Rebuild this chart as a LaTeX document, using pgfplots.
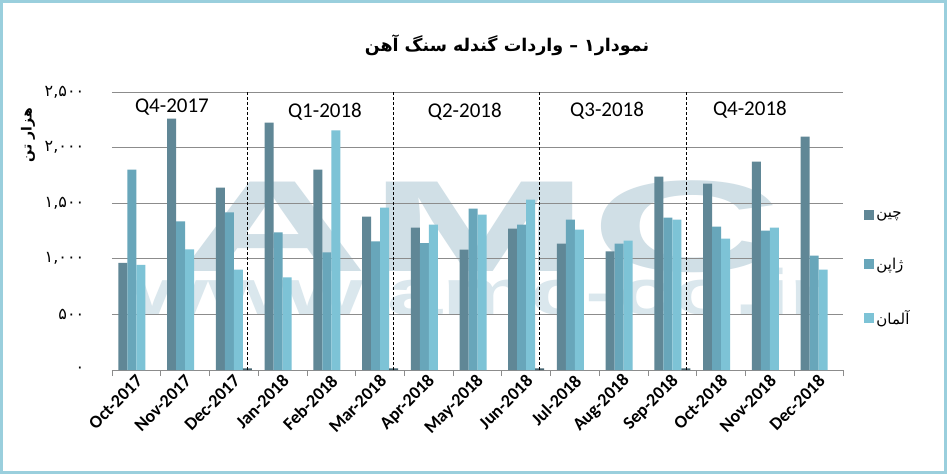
\documentclass[border=0pt]{standalone}
\usepackage{pgfplots}
\pgfplotsset{compat=1.18}
\usepackage{fontspec}
\setmainfont{Carlito}
\newfontfamily\arabicfont[Script=Arabic]{DejaVu Sans}
\TeXXeTstate=1
\definecolor{cChina}{RGB}{96,135,150}
\definecolor{cJapan}{RGB}{104,166,186}
\definecolor{cGermany}{RGB}{125,195,214}
\definecolor{cSep}{RGB}{70,100,112}
\definecolor{frameblue}{RGB}{154,207,221}
\definecolor{wm}{RGB}{208,223,230}
\definecolor{wm2}{RGB}{218,231,237}
\definecolor{gridgray}{RGB}{140,140,140}

\pgfplotstableread{
x china japan germany
0 963 1802 945
1 2261 1337 1085
2 1640 1418 903
3 2225 1238 834
4 1802 1058 2156
5 1379 1157 1460
6 1280 1142 1307
7 1082 1451 1397
8 1271 1307 1532
9 1136 1352 1262
10 1067 1136 1163
11 1739 1370 1352
12 1676 1289 1181
13 1874 1253 1280
14 2099 1028 903
}\datatable

\begin{document}
\begin{tikzpicture}[x=1pt,y=1pt]
\useasboundingbox (0,0) rectangle (947,474);
\fill[white] (0,0) rectangle (947,474);
% watermark
\node[text=wm, inner sep=0pt, font=\fontspec{Liberation Sans}\bfseries\fontsize{130}{130}\selectfont, xscale=2.05, transform shape] at (480,247) {AMC};
\node[text=wm2, inner sep=0pt, anchor=base, font=\fontspec{Liberation Sans}\bfseries\fontsize{64}{64}\selectfont, xscale=1.55, transform shape] at (480,159) {www.amc-co.ir};
% title
\node[font=\arabicfont\bfseries\fontsize{17.5}{22}\selectfont] at (507,429) {\beginR نمودار۱ – واردات گندله سنگ آهن\endR};
\begin{axis}[
  at={(112pt,104pt)}, anchor=south west,
  scale only axis, width=731pt, height=278pt,
  xmin=-0.5, xmax=14.5, ymin=0, ymax=2500,
  axis lines*=left,
  y axis line style={draw=none},
  x axis line style={draw=gridgray, line width=0.8pt},
  tick align=outside,
  xtick={0,...,14},
  xticklabels={Oct-2017,Nov-2017,Dec-2017,Jan-2018,Feb-2018,Mar-2018,Apr-2018,May-2018,Jun-2018,Jul-2018,Aug-2018,Sep-2018,Oct-2018,Nov-2018,Dec-2018},
  major x tick style={draw=none},
  minor xtick={-0.5,0.5,...,14.5},
  minor x tick style={draw=gridgray, line width=0.8pt},
  minor tick length=6pt,
  xticklabel style={font=\bfseries\fontsize{18}{18}\selectfont, rotate=45, anchor=east, xshift=3pt, yshift=-5pt},
  ytick={0,500,...,2500},
  yticklabels={۰,۵۰۰,{۱,۰۰۰},{۱,۵۰۰},{۲,۰۰۰},{۲,۵۰۰}},
  yticklabel style={font=\arabicfont\fontsize{16}{16}\selectfont, anchor=east, xshift=-20pt},
  major y tick style={draw=none},
  ymajorgrids,
  grid style={draw=gridgray, line width=0.8pt},
  ylabel={\arabicfont\bfseries\fontsize{14}{14}\selectfont\beginR هزار تن\endR},
  ylabel style={at={(axis description cs:-0.115,0.845)}, anchor=center},
  legend style={at={(1.025,0.585)}, anchor=north west, draw=none, fill=none,
    font=\arabicfont\fontsize{15}{15}\selectfont, row sep=35pt},
  legend cell align=left,
  clip=false,
]
\addplot[ybar, bar width=9pt, bar shift=-13.5pt, fill=cChina, draw=none,
  legend image code/.code={\fill[cChina] (0pt,-5pt) rectangle (10pt,5pt);}]
  table[x=x, y=china] {\datatable};
\addlegendentry{\beginR چین\endR}
\addplot[ybar, bar width=9pt, bar shift=-4.5pt, fill=cJapan, draw=none,
  legend image code/.code={\fill[cJapan] (0pt,-5pt) rectangle (10pt,5pt);}]
  table[x=x, y=japan] {\datatable};
\addlegendentry{\beginR ژاپن\endR}
\addplot[ybar, bar width=9pt, bar shift=4.5pt, fill=cGermany, draw=none,
  legend image code/.code={\fill[cGermany] (0pt,-5pt) rectangle (10pt,5pt);}]
  table[x=x, y=germany] {\datatable};
\addlegendentry{\beginR آلمان\endR}
\addplot[ybar, bar width=9pt, bar shift=13.5pt, fill=cSep, draw=none, forget plot]
  coordinates {(2,15) (5,15) (8,15) (11,15)};
% quarter separators
\addplot[black, dash pattern=on 3pt off 2pt, line width=0.8pt, forget plot] coordinates {(2.277,0) (2.277,2500)};
\addplot[black, dash pattern=on 3pt off 2pt, line width=0.8pt, forget plot] coordinates {(5.277,0) (5.277,2500)};
\addplot[black, dash pattern=on 3pt off 2pt, line width=0.8pt, forget plot] coordinates {(8.277,0) (8.277,2500)};
\addplot[black, dash pattern=on 3pt off 2pt, line width=0.8pt, forget plot] coordinates {(11.277,0) (11.277,2500)};
% quarter labels
\node[font=\fontsize{21}{21}\selectfont] at (axis cs:0.73,2360) {Q4-2017};
\node[font=\fontsize{21}{21}\selectfont] at (axis cs:3.87,2325) {Q1-2018};
\node[font=\fontsize{21}{21}\selectfont] at (axis cs:6.74,2320) {Q2-2018};
\node[font=\fontsize{21}{21}\selectfont] at (axis cs:9.66,2330) {Q3-2018};
\node[font=\fontsize{21}{21}\selectfont] at (axis cs:12.59,2340) {Q4-2018};
\end{axis}
\draw[frameblue, line width=3pt] (1.5,1.5) rectangle (945.5,472.5);
\end{tikzpicture}
\end{document}
